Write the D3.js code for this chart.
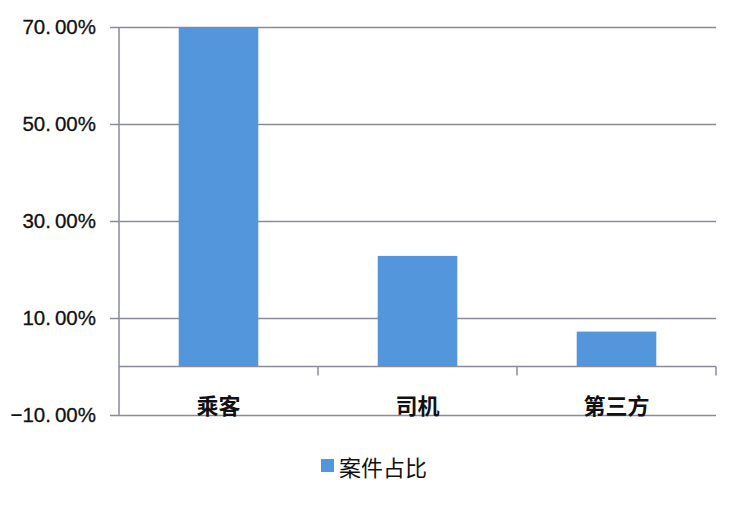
<!DOCTYPE html>
<html>
<head>
<meta charset="utf-8">
<script src="https://cdn.jsdelivr.net/npm/d3@7"></script>
<style>
html,body{margin:0;padding:0;background:#fff;}
svg{display:block;}
</style>
</head>
<body>
<svg id="chart" width="743" height="506"></svg>
<script>
const categories = ["乘客", "司机", "第三方"];
const values = [70.0, 22.8, 7.2];
const seriesName = "案件占比";
const yTicks = [-10, 10, 30, 50, 70];

const svg = d3.select("#chart");
const mLeft = 119, mRight = 716, mTop = 27, mBottom = 415;
const gridColor = "#898c98";
const barColor = "#5496dc";

const x = d3.scaleBand().domain(categories).range([mLeft, mRight]).paddingInner(0.6).paddingOuter(0.3);
const y = d3.scaleLinear().domain([-10, 70]).range([mBottom, mTop]);

// gridlines + y axis ticks
const yAxis = d3.axisLeft(y).tickValues(yTicks).tickSize(-(mRight - mLeft)).tickSizeOuter(0)
  .tickFormat(d => "");
const gy = svg.append("g").attr("transform", `translate(${mLeft},0)`).call(yAxis);
gy.select(".domain").remove();
gy.selectAll(".tick line").attr("stroke", gridColor).attr("stroke-width", 1.5).attr("x1", -9);

// y labels
const lab = svg.append("g").selectAll("text").data(yTicks).join("text")
  .attr("x", 96).attr("y", d => y(d)).attr("text-anchor", "end").attr("dy", "0.36em")
  .attr("font-family", "Liberation Sans, Arial, sans-serif").attr("font-size", 20.5)
  .attr("fill", "#111").attr("stroke", "#111").attr("stroke-width", 0.3);
lab.each(function(d) {
  const s = d3.format(".2f")(d);
  const parts = s.split(".");
  const t = d3.select(this);
  t.append("tspan").text(parts[0] + ".");
  t.append("tspan").attr("dx", 4).text(parts[1] + "%");
});

// y axis line
svg.append("line").attr("x1", mLeft).attr("x2", mLeft).attr("y1", mTop).attr("y2", mBottom)
  .attr("stroke", gridColor).attr("stroke-width", 1.5);

// bars
svg.append("g").selectAll("rect").data(values).join("rect")
  .attr("x", (d, i) => x(categories[i]))
  .attr("width", x.bandwidth())
  .attr("y", d => y(d))
  .attr("height", d => y(0) - y(d))
  .attr("fill", barColor);

// zero axis with category ticks
const step = x.step();
const xAxis = d3.axisBottom(x).tickSize(0).tickSizeOuter(0).tickFormat("");
const gx = svg.append("g").attr("transform", `translate(0,${y(0)})`).call(xAxis);
gx.select(".domain").attr("stroke", gridColor).attr("stroke-width", 1.5)
  .attr("d", `M${mLeft},0H${mRight}`);
gx.selectAll(".tick").remove();
const boundaries = categories.map((c, i) => mLeft + step * (i + 1));
gx.selectAll(".btick").data(boundaries).join("line").attr("class", "btick")
  .attr("x1", d => d).attr("x2", d => d).attr("y1", 0).attr("y2", 9)
  .attr("stroke", gridColor).attr("stroke-width", 1.5);

// category labels
svg.append("g").selectAll("text").data(categories).join("text")
  .attr("x", d => x(d) + x.bandwidth() / 2).attr("y", 404)
  .attr("text-anchor", "middle").attr("dominant-baseline", "central")
  .attr("font-family", "Noto Sans CJK SC, sans-serif").attr("font-weight", "bold")
  .attr("font-size", 22).attr("fill", "#111").text(d => d);

// legend
const lg = svg.append("g");
lg.append("rect").attr("x", 321).attr("y", 459).attr("width", 13).attr("height", 13).attr("fill", barColor);
lg.append("text").attr("x", 339).attr("y", 466).attr("dominant-baseline", "central")
  .attr("font-family", "Noto Sans CJK SC, sans-serif").attr("font-size", 22).attr("fill", "#111")
  .text(seriesName);
</script>
</body>
</html>
